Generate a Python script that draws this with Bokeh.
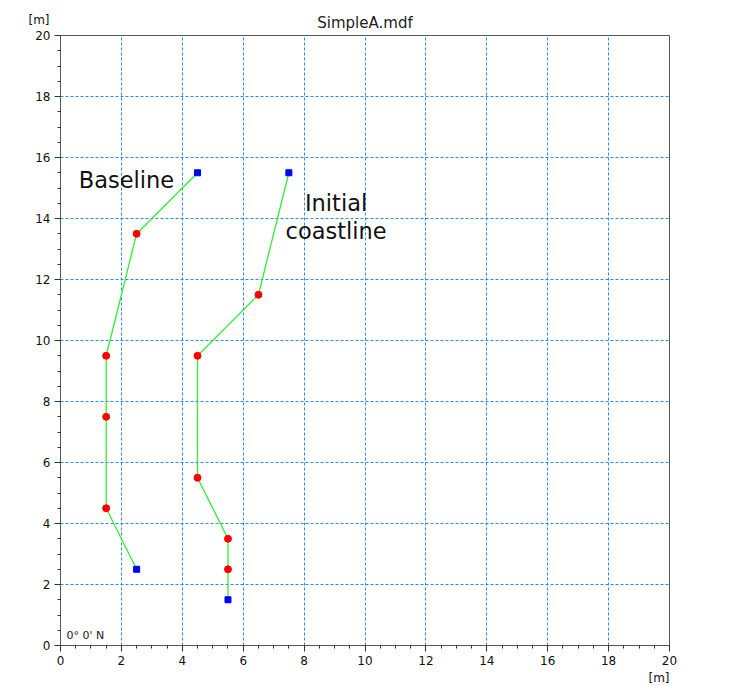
from bokeh.plotting import figure
from bokeh.models import Range1d, SingleIntervalTicker, Label, ColumnDataSource, Title
from bokeh.embed import file_html
from bokeh.resources import INLINE

# Data
baseline_x = [2.5, 1.5, 1.5, 1.5, 2.5, 4.5]
baseline_y = [2.5, 4.5, 7.5, 9.5, 13.5, 15.5]
baseline_kind = ["end", "mid", "mid", "mid", "mid", "end"]

coast_x = [5.5, 5.5, 5.5, 4.5, 4.5, 6.5, 7.5]
coast_y = [1.5, 2.5, 3.5, 5.5, 9.5, 11.5, 15.5]
coast_kind = ["end", "mid", "mid", "mid", "mid", "mid", "end"]

title_text = "SimpleA.mdf"
unit_label = "[m]"
origin_label = "0\u00b0 0' N"

FONT = "DejaVu Sans"

p = figure(width=754, height=686, output_backend="svg", toolbar_location=None,
           x_range=Range1d(0, 20), y_range=Range1d(0, 20),
           min_border_left=60, min_border_right=85, min_border_bottom=41, min_border_top=35)

p.title.text = title_text
p.title.align = "center"
p.title.text_font = FONT
p.title.text_font_size = "15px"
p.title.text_font_style = "normal"
p.title.text_color = "#222222"
p.title.standoff = -60

# unit label top-left
p.add_layout(Title(text=unit_label, align="left", offset=-32, text_font=FONT,
                   text_font_size="12px", text_font_style="normal", text_color="#111111",
                   standoff=18), "above")

for ax in (p.xaxis[0], p.yaxis[0]):
    ax.ticker = SingleIntervalTicker(interval=2, num_minor_ticks=4)
    ax.axis_line_color = "#555555"
    ax.major_tick_line_color = "#333333"
    ax.minor_tick_line_color = "#333333"
    ax.major_tick_out = 6
    ax.major_tick_in = 0
    ax.minor_tick_out = 3
    ax.minor_tick_in = 0
    ax.major_label_text_font = FONT
    ax.major_label_text_font_size = "12px"
    ax.major_label_text_color = "#111111"
    ax.major_label_standoff = 4

# unit label bottom-right
p.add_layout(Title(text=unit_label, align="right", offset=0, text_font=FONT,
                   text_font_size="12px", text_font_style="normal", text_color="#111111",
                   standoff=2), "below")

p.outline_line_color = "#555555"
p.outline_line_width = 1

for g in (p.xgrid[0], p.ygrid[0]):
    g.ticker = SingleIntervalTicker(interval=2)
    g.grid_line_color = "#2b8cf0"
    g.grid_line_dash = "3 2"
    g.grid_line_width = 1

def draw(xs, ys, kinds):
    p.line(xs, ys, line_color="#33ee33", line_width=1.3)
    mid = ColumnDataSource(dict(x=[x for x, k in zip(xs, kinds) if k == "mid"],
                                y=[y for y, k in zip(ys, kinds) if k == "mid"]))
    end = ColumnDataSource(dict(x=[x for x, k in zip(xs, kinds) if k == "end"],
                                y=[y for y, k in zip(ys, kinds) if k == "end"]))
    p.scatter("x", "y", source=mid, marker="circle", size=7, fill_color="#ff0000", line_color="#ff0000")
    p.scatter("x", "y", source=end, marker="square", size=6, fill_color="#0000ff", line_color="#0000ff")

draw(baseline_x, baseline_y, baseline_kind)
draw(coast_x, coast_y, coast_kind)

p.add_layout(Label(x=0.6, y=15.25, text="Baseline", text_font=FONT, text_font_size="22.5px",
                   text_baseline="middle", text_align="left", text_color="#111111"))
p.add_layout(Label(x=9.05, y=14.5, text="Initial", text_font=FONT, text_font_size="22.5px",
                   text_baseline="middle", text_align="center", text_color="#111111"))
p.add_layout(Label(x=9.05, y=13.6, text="coastline", text_font=FONT, text_font_size="22.5px",
                   text_baseline="middle", text_align="center", text_color="#111111"))

p.add_layout(Label(x=0, y=0, x_offset=6, y_offset=4, text=origin_label, text_font=FONT,
                   text_font_size="11px", text_baseline="bottom", text_align="left", text_color="#222222"))

open("out.html", "w").write(file_html(p, INLINE))
